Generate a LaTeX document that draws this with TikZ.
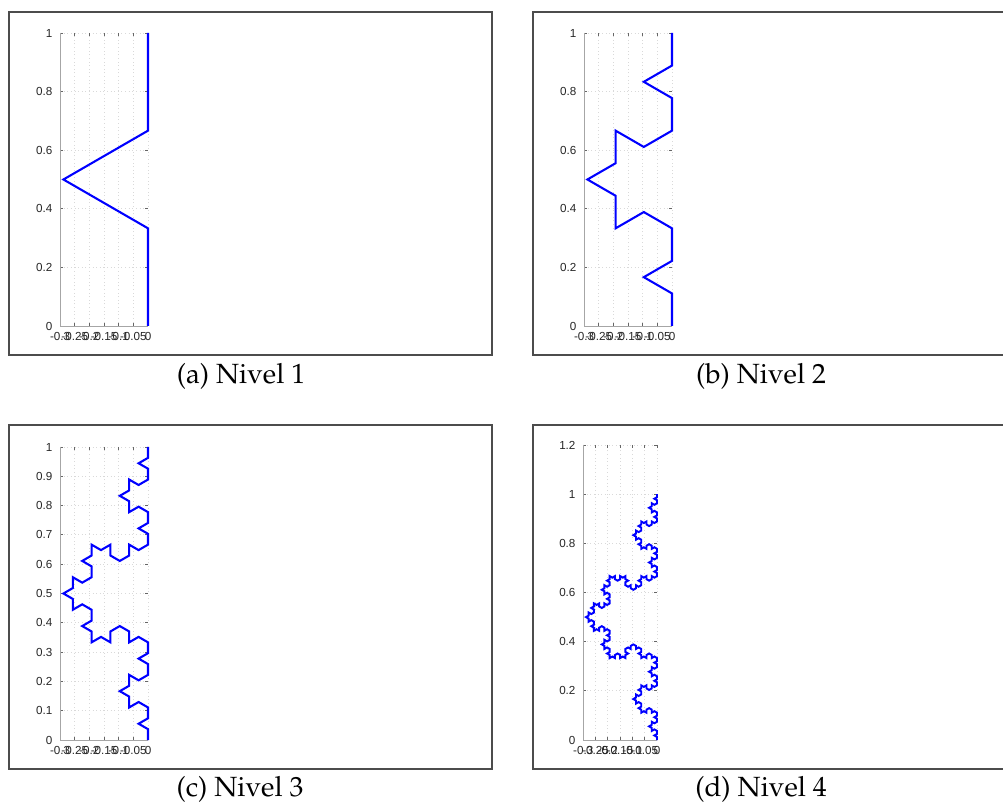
\documentclass[tikz,border=0pt]{standalone}
\usepackage{fontspec}
\setsansfont{Liberation Sans}
\usepackage[T1,TU]{fontenc}
\usepackage{tikz}
\usetikzlibrary{lindenmayersystems}

\pgfdeclarelindenmayersystem{Koch}{\rule{F -> F++F----F++F}}

% axes of one plot: #1 y ticks, #2 ymax, #3 name prefix
\newcommand{\plotaxes}[3]{%
  \foreach \gy [count=\j] in {#1} {
    \draw[gridline] (-0.3,\gy) -- (0,\gy);
    \draw[tick] (-0.3,\gy) -- ++(1pt,0);
    \draw[tick] (0,\gy) -- ++(-1pt,0);
    \node[ticklabel, anchor=east] (#3y\j) at ([xshift=-2.6pt]-0.3,\gy) {\gy};
  }
  \foreach \gx [count=\i] in {-0.3,-0.25,-0.2,-0.15,-0.1,-0.05,0} {
    \draw[gridline] (\gx,0) -- (\gx,#2);
    \draw[tick] (\gx,0) -- ++(0,1pt);
    \draw[tick] (\gx,#2) -- ++(0,-1pt);
    \node[ticklabel, anchor=north] (#3x\i) at ([yshift=-2.2pt]\gx,0) {\gx};
  }
  \draw[axisline] (-0.3,#2) -- (-0.3,0) -- (0,0);
}

\begin{document}
\begin{tikzpicture}[x=0.36pt, y=0.36pt,
  panel/.style={draw=black!70, line width=0.5pt},
  gridline/.style={draw=black!15, densely dotted, line width=0.3pt},
  axisline/.style={draw=black!35, line width=0.3pt},
  tick/.style={draw=black!60, line width=0.3pt},
  ticklabel/.style={font=\sffamily\fontsize{4.2}{5}\selectfont, inner sep=0pt, text=black!85},
  koch/.style={draw=blue, line width=0.75pt, line join=miter},
  caption/.style={font={\fontencoding{T1}\fontfamily{ppl}\fontsize{10}{12}\selectfont}, inner sep=0pt}
]
  \useasboundingbox (0,0) rectangle (1003,811);

  % Frames
  \draw[panel] (9,456) rectangle (492,799);
  \draw[panel] (533,456) rectangle (1016,799);
  \draw[panel] (9,42) rectangle (492,386);
  \draw[panel] (533,42) rectangle (1016,386);

  % Nivel 1
  \begin{scope}[shift={(148,485)}, x=105.48pt, y=105.48pt]
    \plotaxes{0,0.2,0.4,0.6,0.8,1}{1}{a}
    \draw[koch, l-system={Koch, axiom=+++F, order=1, angle=30, step=35.16pt}] (0,0) lindenmayer system;
  \end{scope}

  % Nivel 2
  \begin{scope}[shift={(672,485)}, x=105.48pt, y=105.48pt]
    \plotaxes{0,0.2,0.4,0.6,0.8,1}{1}{b}
    \draw[koch, l-system={Koch, axiom=+++F, order=2, angle=30, step=11.72pt}] (0,0) lindenmayer system;
  \end{scope}

  % Nivel 3
  \begin{scope}[shift={(148,71)}, x=105.48pt, y=105.48pt]
    \plotaxes{0,0.1,0.2,0.3,0.4,0.5,0.6,0.7,0.8,0.9,1}{1}{c}
    \draw[koch, l-system={Koch, axiom=+++F, order=3, angle=30, step=3.9067pt}] (0,0) lindenmayer system;
  \end{scope}

  % Nivel 4
  \begin{scope}[shift={(657,71)}, x=88.5pt, y=88.5pt]
    \plotaxes{0,0.2,0.4,0.6,0.8,1,1.2}{1.2}{d}
    \draw[koch, line width=0.7pt, l-system={Koch, axiom=+++F, order=4, angle=30, step=1.0926pt}] (0,0) lindenmayer system;
  \end{scope}

  % Captions
  \node[caption] (capa) at (241,435) {(a) Nivel 1};
  \node[caption] (capb) at (761,435) {(b) Nivel 2};
  \node[caption] (capc) at (240,22) {(c) Nivel 3};
  \node[caption] (capd) at (761,22) {(d) Nivel 4};
\end{tikzpicture}
\end{document}
